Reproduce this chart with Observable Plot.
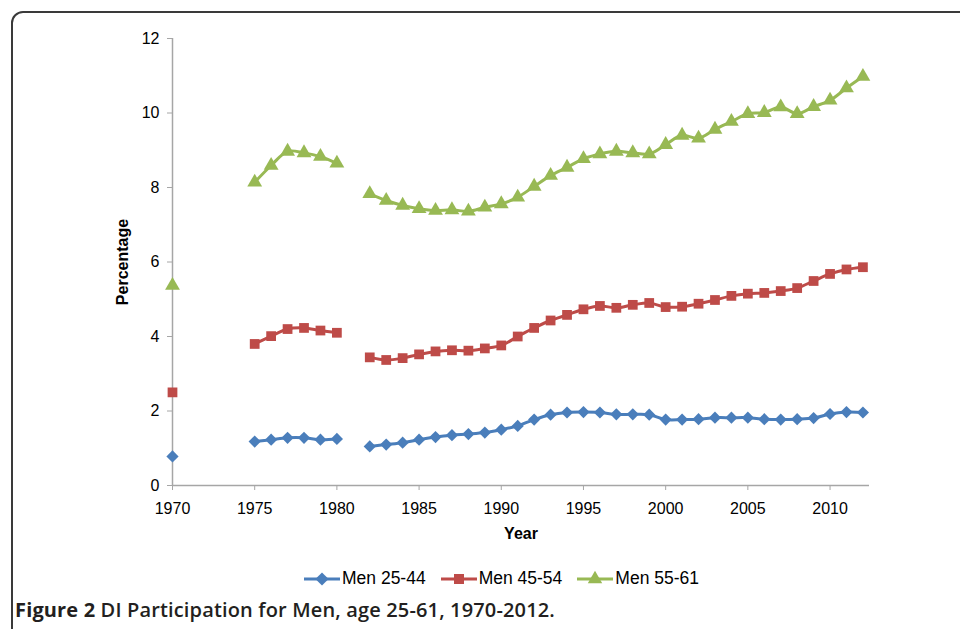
<!DOCTYPE html>
<html>
<head>
<meta charset="utf-8">
<script src="https://cdn.jsdelivr.net/npm/d3@7"></script>
<script src="https://cdn.jsdelivr.net/npm/@observablehq/plot@0.6"></script>
<style>
  html, body { margin: 0; padding: 0; background: #fff; width: 960px; height: 629px; overflow: hidden; }
  #frame { position: absolute; left: 11px; top: 11px; width: 1000px; height: 700px; border: 2px solid #3a3a3a; border-top-left-radius: 12px; }
  #chart { position: absolute; left: 0; top: 0; }
  #legend { position: absolute; left: 304px; top: 568px; font-family: "Liberation Sans", Arial, sans-serif; font-size: 17.5px; color: #000; display: flex; align-items: center; white-space: nowrap; }
  #legend .item { display: flex; align-items: center; margin-right: 15px; }
  #legend svg { display: block; margin-right: 2px; }
  #caption { position: absolute; left: 15px; top: 597px; font-family: "Open Sans", sans-serif; font-size: 20px; line-height: 26px; font-weight: 600; color: #231f20; white-space: nowrap; letter-spacing: 0.15px; }
  #caption b { font-weight: 700; }
</style>
</head>
<body>
<div id="frame"></div>
<div id="chart"></div>
<div id="legend"></div>
<div id="caption"><b>Figure 2</b> DI Participation for Men, age 25-61, 1970-2012.</div>
<script>
const years = d3.range(1970, 2013);
const seriesNames = ["Men 25-44", "Men 45-54", "Men 55-61"];
const colors = ["#4a7ebb", "#be4b48", "#98b954"];
const symbols = ["diamond2", "square", "triangle"];
// null = no data (1971-1974, 1981)
const men2544 = [0.78, null, null, null, null, 1.18, 1.23, 1.28, 1.28, 1.23, 1.25, null,
  1.05, 1.10, 1.15, 1.23, 1.30, 1.35, 1.38, 1.42, 1.50, 1.60, 1.77, 1.90, 1.96, 1.97,
  1.96, 1.91, 1.91, 1.90, 1.77, 1.77, 1.78, 1.82, 1.82, 1.82, 1.78, 1.77, 1.78, 1.81,
  1.92, 1.97, 1.96];
const men4554 = [2.50, null, null, null, null, 3.80, 4.01, 4.20, 4.23, 4.16, 4.10, null,
  3.44, 3.37, 3.42, 3.52, 3.60, 3.63, 3.62, 3.68, 3.76, 4.00, 4.23, 4.43, 4.58, 4.73,
  4.82, 4.77, 4.85, 4.90, 4.79, 4.80, 4.88, 4.98, 5.09, 5.15, 5.17, 5.22, 5.30, 5.49,
  5.68, 5.80, 5.86];
const men5561 = [5.37, null, null, null, null, 8.14, 8.59, 8.97, 8.93, 8.83, 8.65, null,
  7.83, 7.65, 7.52, 7.43, 7.38, 7.40, 7.36, 7.47, 7.56, 7.74, 8.03, 8.32, 8.54, 8.77,
  8.90, 8.97, 8.93, 8.90, 9.15, 9.40, 9.32, 9.56, 9.77, 9.98, 10.01, 10.16, 9.98, 10.17,
  10.34, 10.67, 10.98];
const xTicks = [1970, 1975, 1980, 1985, 1990, 1995, 2000, 2005, 2010];
const yTicks = [0, 2, 4, 6, 8, 10, 12];
const xLabel = "Year";
const yLabel = "Percentage";

const valuesBySeries = [men2544, men4554, men5561];
const data = [];
seriesNames.forEach((s, i) => {
  years.forEach((yr, j) => data.push({series: s, year: yr, value: valuesBySeries[i][j]}));
});
const pts = data.filter(d => d.value != null);

const chart = Plot.plot({
  width: 960,
  height: 545,
  marginLeft: 172,
  marginRight: 91,
  marginTop: 38,
  marginBottom: 60,
  style: {fontFamily: "'Liberation Sans', Arial, sans-serif", fontSize: "16px", color: "#000", background: "transparent"},
  x: {domain: [1970, 2012.4]},
  y: {domain: [0, 12]},
  color: {domain: seriesNames, range: colors},
  symbol: {domain: seriesNames, range: symbols},
  marks: [
    Plot.ruleY([0], {stroke: "#a6a6a6", strokeWidth: 1.5}),
    Plot.ruleX([1970], {stroke: "#a6a6a6", strokeWidth: 1.5}),
    Plot.axisX({ticks: xTicks, tickFormat: d => String(d), tickSize: 5, tickPadding: 12, stroke: "#a6a6a6", fill: "#000", fontSize: 16, label: null}),
    Plot.axisY({ticks: yTicks, tickFormat: d => String(d), tickSize: 5, tickPadding: 8, stroke: "#a6a6a6", fill: "#000", fontSize: 16, label: null}),
    Plot.text([xLabel], {text: d => d, frameAnchor: "bottom", dy: 53, fontWeight: "bold", fontSize: 16, fill: "#000"}),
    Plot.text([yLabel], {text: d => d, frameAnchor: "left", textAnchor: "middle", dx: -50, rotate: -90, fontWeight: "bold", fontSize: 16, fill: "#000"}),
    Plot.line(data, {x: "year", y: "value", z: "series", stroke: "series", strokeWidth: 3, curve: "catmull-rom", defined: d => d.value != null}),
    Plot.dot(pts, {x: "year", y: "value", fill: "series", symbol: "series", r: 5.5, stroke: "none"})
  ]
});
document.getElementById("chart").appendChild(chart);

// legend
const legend = document.getElementById("legend");
const symPaths = {
  "diamond2": d3.symbol(d3.symbolDiamond2, 110)(),
  "square": d3.symbol(d3.symbolSquare, 100)(),
  "triangle": d3.symbol(d3.symbolTriangle, 90)()
};
seriesNames.forEach((s, i) => {
  const item = document.createElement("div");
  item.className = "item";
  item.innerHTML = `<svg width="36" height="20"><line x1="0" x2="36" y1="10" y2="10" stroke="${colors[i]}" stroke-width="3"/><path transform="translate(18,10)" d="${symPaths[symbols[i]]}" fill="${colors[i]}"/></svg><span>${s}</span>`;
  legend.appendChild(item);
});
</script>
</body>
</html>
